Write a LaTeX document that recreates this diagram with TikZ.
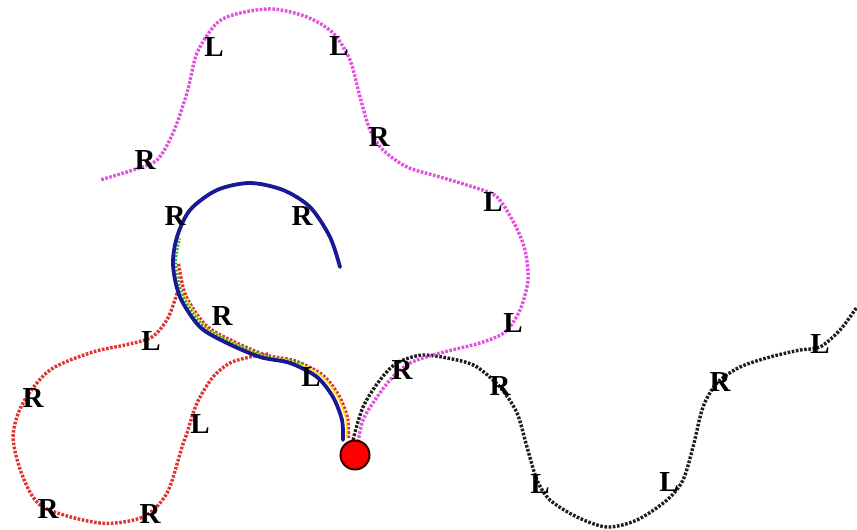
\documentclass[tikz,border=0pt]{standalone}
\usepackage{fontspec}
\setmainfont{Liberation Serif}
\definecolor{magc}{RGB}{226,80,226}
\definecolor{redc}{RGB}{222,52,52}
\definecolor{bluec}{RGB}{25,25,150}
\definecolor{greenc}{RGB}{60,170,40}
\definecolor{blackc}{RGB}{30,30,30}
\begin{document}
\begin{tikzpicture}[x=1pt,y=-1pt,
  dotline/.style={line width=3.4pt,dash pattern=on 2.6pt off 1.6pt},
  lab/.style={font=\fontsize{29}{29}\selectfont\bfseries,inner sep=0pt,text=black},
  startdot/.style={circle,fill=red,draw=black!80!red,line width=2pt,minimum size=29pt,inner sep=0pt}]
\useasboundingbox (0,0) rectangle (857,530);
% black path
\draw[dotline,blackc] plot[smooth] coordinates {(353,440) (363,407) (380,380) (397,363) (423,355) (457,360) (477,367) (500,387) (517,413) (527,447) (537,480) (550,500) (577,517) (607,527) (637,520) (667,500) (683,480) (693,447) (703,407) (717,383) (740,367) (770,357) (800,350) (820,347) (840,330) (857,307)};
% magenta path
\draw[dotline,magc] plot[smooth] coordinates {(358,442) (363,420) (373,403) (390,380) (410,363) (440,353) (480,343) (505,332) (520,310) (528,280) (525,250) (515,225) (497,197) (473,187) (440,177) (407,167) (383,150) (370,130) (360,97) (350,60) (333,33) (307,17) (273,9) (240,13) (217,23) (197,53) (187,93) (173,133) (157,160) (133,170) (100,180)};
% red loop
\draw[dotline,redc] plot[smooth] coordinates {(177,293) (168,318) (152,337) (125,345) (93,352) (50,370) (23,403) (13,437) (23,477) (43,507) (100,523) (143,517) (167,493) (182,447) (187,433) (197,403) (213,377) (230,363) (250,357) (268,354)};
% red along S
\draw[dotline,redc,shift={(5.5,-2)}] plot[smooth] coordinates {(343,440) (342,420) (333,397) (317,377) (290,363) (260,357) (227,343) (200,327) (180,297) (173,265)};
% yellow
\draw[line width=1.5pt,yellow!80!orange,shift={(3.8,-1.5)}] plot[smooth] coordinates {(343,440) (342,420) (333,397) (317,377) (290,363) (260,357) (227,343) (200,327) (180,297)};
% green dotted
\draw[line width=2.4pt,dash pattern=on 2pt off 1.6pt,greenc,shift={(2.8,-1.5)}] plot[smooth] coordinates {(300,365) (290,363) (260,357) (227,343) (200,327) (180,297) (173,265) (177,240)};
% blue solid
\draw[line width=3.8pt,bluec,line cap=round] plot[smooth] coordinates {(343,440) (342,420) (333,397) (317,377) (290,363) (260,357) (227,343) (200,327) (180,297) (173,265) (177,237) (190,210) (217,190) (250,183) (283,190) (310,207) (330,237) (340,267)};
% start
\node[startdot] (start) at (355,455) {};
% labels magenta
\node[lab] (m1) at (145,160) {R};
\node[lab] (m2) at (214,47) {L};
\node[lab] (m3) at (339,46) {L};
\node[lab] (m4) at (379,137) {R};
\node[lab] (m5) at (493,202) {L};
\node[lab] (m6) at (513,323) {L};
\node[lab] (m7) at (402,370) {R};
% labels blue
\node[lab] (b1) at (175,216) {R};
\node[lab] (b2) at (302,216) {R};
\node[lab] (b3) at (222,316) {R};
\node[lab] (b4) at (311,377) {L};
% labels red
\node[lab] (r1) at (151,341) {L};
\node[lab] (r2) at (33,398) {R};
\node[lab] (r3) at (200,424) {L};
\node[lab] (r4) at (48,509) {R};
\node[lab] (r5) at (150,514) {R};
% labels black
\node[lab] (k1) at (500,386) {R};
\node[lab] (k2) at (540,484) {L};
\node[lab] (k3) at (669,482) {L};
\node[lab] (k4) at (720,382) {R};
\node[lab] (k5) at (820,344) {L};
\end{tikzpicture}
\end{document}
